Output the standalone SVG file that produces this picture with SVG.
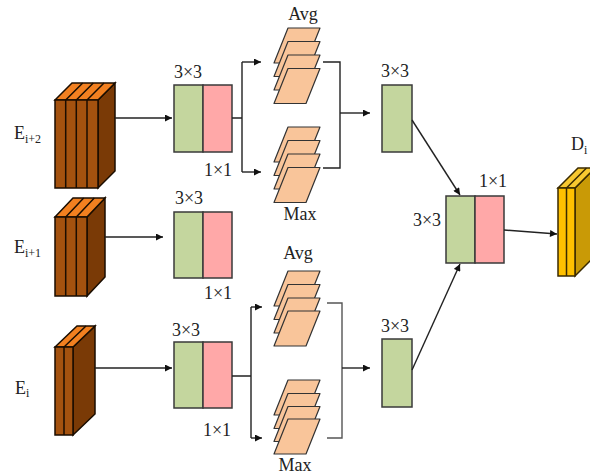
<svg xmlns="http://www.w3.org/2000/svg" xmlns:xlink="http://www.w3.org/1999/xlink" width="590" height="476" viewBox="0 0 590 476">
  <defs>
    <style>
      .lbl { font-family: "Liberation Serif", "Times New Roman", serif; font-size: 18px; fill: #222; }
      .sub { font-family: "Liberation Serif", "Times New Roman", serif; font-size: 12px; fill: #222; }
      .conv3 { fill: #c4d69e; stroke: #3a3a3a; stroke-width: 1.5; }
      .conv1 { fill: #ffa8a8; stroke: #3a3a3a; stroke-width: 1.5; }
      .plane { fill: #f9c59a; stroke: #333; stroke-width: 1.2; stroke-linejoin: round; }
      .wire { fill: none; stroke: #222; stroke-width: 1.4; }
      .wire-soft { fill: none; stroke: #555; stroke-width: 1.4; }
      .bf { fill: #a4520f; stroke: #1a0d00; stroke-width: 1.5; }
      .bt { fill: #f28020; stroke: #1a0d00; stroke-width: 1.5; }
      .bs { fill: #7a3a06; stroke: #1a0d00; stroke-width: 1.5; }
      .yf { fill: #ffc000; stroke: #3a2a00; stroke-width: 1.5; }
      .yt { fill: #f8c830; stroke: #3a2a00; stroke-width: 1.5; }
      .ys { fill: #c99a06; stroke: #3a2a00; stroke-width: 1.5; }
      .stripe { stroke: #1a0d00; stroke-width: 1.5; fill: none; }
    </style>
    <marker id="arrow" viewBox="0 0 10 10" refX="10" refY="5" markerUnits="userSpaceOnUse" markerWidth="9" markerHeight="7" orient="auto">
      <path d="M0,0 L10,5 L0,10 z" fill="#111"/>
    </marker>
    <!-- single feature plane of a pooled stack -->
    <path id="plane" class="plane" d="M0,0 H32 L18,35 H-14 Z"/>
  </defs>

  <!-- input feature blocks -->
  <g id="E_i2">
    <path class="bs" d="M98,100 L115,83 L115,171 L98,188 Z"/>
    <path class="bt" d="M55,100 L72,83 L115,83 L98,100 Z"/>
    <rect class="bf" x="55" y="100" width="43" height="88"/>
    <path class="stripe" d="M65.7,100 V188 M76.3,100 V188 M87,100 V188 M65.7,100 L82.7,83 M76.3,100 L93.3,83 M87,100 L104,83"/>
    <text class="lbl" x="14" y="139">E</text><text class="sub" x="25" y="143">i+2</text>
  </g>
  <g id="E_i1">
    <path class="bs" d="M87,217 L105,198 L105,277 L87,296 Z"/>
    <path class="bt" d="M55,217 L73,198 L105,198 L87,217 Z"/>
    <rect class="bf" x="55" y="217" width="32" height="79"/>
    <path class="stripe" d="M65.7,217 V296 M76.3,217 V296 M65.7,217 L83.7,198 M76.3,217 L94.3,198"/>
    <text class="lbl" x="14" y="253">E</text><text class="sub" x="25" y="257">i+1</text>
  </g>
  <g id="E_i">
    <path class="bs" d="M73,347 L95,326 L95,414 L73,435 Z"/>
    <path class="bt" d="M55,347 L77,326 L95,326 L73,347 Z"/>
    <rect class="bf" x="55" y="347" width="18" height="88"/>
    <path class="stripe" d="M64,347 V435 M64,347 L86,326"/>
    <text class="lbl" x="15" y="394">E</text><text class="sub" x="26" y="397">i</text>
  </g>

  <!-- convolution blocks on the left -->
  <g id="conv_top">
    <rect class="conv3" x="174" y="85" width="29" height="67"/>
    <rect class="conv1" x="203" y="85" width="29" height="67"/>
    <text class="lbl" x="188" y="78" text-anchor="middle">3×3</text>
    <text class="lbl" x="218" y="176" text-anchor="middle">1×1</text>
  </g>
  <g id="conv_mid">
    <rect class="conv3" x="174" y="212" width="29" height="66"/>
    <rect class="conv1" x="203" y="212" width="29" height="66"/>
    <text class="lbl" x="189" y="204" text-anchor="middle">3×3</text>
    <text class="lbl" x="218" y="299" text-anchor="middle">1×1</text>
  </g>
  <g id="conv_bot">
    <rect class="conv3" x="174" y="342" width="29" height="66"/>
    <rect class="conv1" x="203" y="342" width="29" height="66"/>
    <text class="lbl" x="186" y="336" text-anchor="middle">3×3</text>
    <text class="lbl" x="217" y="436" text-anchor="middle">1×1</text>
  </g>

  <!-- pooled stacks -->
  <g id="avg_top">
    <use xlink:href="#plane" x="288" y="28"/>
    <use xlink:href="#plane" x="288" y="41.5"/>
    <use xlink:href="#plane" x="288" y="55"/>
    <use xlink:href="#plane" x="288" y="68.5"/>
    <text class="lbl" x="303" y="20" text-anchor="middle">Avg</text>
  </g>
  <g id="max_top">
    <use xlink:href="#plane" x="288" y="127"/>
    <use xlink:href="#plane" x="288" y="140.5"/>
    <use xlink:href="#plane" x="288" y="154"/>
    <use xlink:href="#plane" x="288" y="167.5"/>
    <text class="lbl" x="300" y="220" text-anchor="middle">Max</text>
  </g>
  <g id="avg_bot">
    <use xlink:href="#plane" x="288" y="271"/>
    <use xlink:href="#plane" x="288" y="284.5"/>
    <use xlink:href="#plane" x="288" y="298"/>
    <use xlink:href="#plane" x="288" y="311"/>
    <text class="lbl" x="298" y="259" text-anchor="middle">Avg</text>
  </g>
  <g id="max_bot">
    <use xlink:href="#plane" x="288" y="380"/>
    <use xlink:href="#plane" x="288" y="393.5"/>
    <use xlink:href="#plane" x="288" y="406.5"/>
    <use xlink:href="#plane" x="288" y="419"/>
    <text class="lbl" x="295" y="471" text-anchor="middle">Max</text>
  </g>

  <!-- fusion convolutions on the right -->
  <g id="conv_r_top">
    <rect class="conv3" x="382" y="85" width="30" height="67"/>
    <text class="lbl" x="395" y="77" text-anchor="middle">3×3</text>
  </g>
  <g id="conv_r_bot">
    <rect class="conv3" x="382" y="339" width="30" height="68"/>
    <text class="lbl" x="395" y="332" text-anchor="middle">3×3</text>
  </g>
  <g id="conv_out">
    <rect class="conv3" x="446" y="196" width="29" height="67"/>
    <rect class="conv1" x="475" y="196" width="29" height="67"/>
    <text class="lbl" x="427" y="226" text-anchor="middle">3×3</text>
    <text class="lbl" x="493" y="187" text-anchor="middle">1×1</text>
  </g>

  <!-- output feature block -->
  <g id="D_i">
    <path class="ys" d="M575,188 L595,168 L595,256 L575,276 Z"/>
    <path class="yt" d="M558,188 L578,168 L595,168 L575,188 Z"/>
    <rect class="yf" x="558" y="188" width="17" height="88"/>
    <path class="stripe" style="stroke:#3a2a00" d="M566.5,188 V276 M566.5,188 L586.5,168"/>
    <text class="lbl" x="571" y="150">D</text><text class="sub" x="584" y="154">i</text>
  </g>

  <!-- connectors -->
  <g id="connectors">
    <line class="wire" x1="115" y1="118" x2="172" y2="118" marker-end="url(#arrow)"/>
    <line class="wire" x1="105" y1="237" x2="163" y2="237" marker-end="url(#arrow)"/>
    <line class="wire" x1="95" y1="368" x2="172" y2="368" marker-end="url(#arrow)"/>

    <path class="wire" d="M232,118 H242 M242,62 V172"/>
    <line class="wire" x1="242" y1="62" x2="261" y2="62" marker-end="url(#arrow)"/>
    <line class="wire" x1="242" y1="172" x2="261" y2="172" marker-end="url(#arrow)"/>

    <path class="wire" d="M232,376 H251 M251,307 V438"/>
    <line class="wire" x1="251" y1="307" x2="262" y2="307" marker-end="url(#arrow)"/>
    <line class="wire" x1="251" y1="438" x2="262" y2="438" marker-end="url(#arrow)"/>

    <path class="wire" d="M323,62 H340 V168 H323"/>
    <line class="wire" x1="340" y1="113" x2="370" y2="113" marker-end="url(#arrow)"/>

    <path class="wire-soft" d="M327,303 H342 V438 H327"/>
    <line class="wire" x1="342" y1="368" x2="370" y2="368" marker-end="url(#arrow)"/>

    <line class="wire" x1="412" y1="120" x2="460" y2="195" marker-end="url(#arrow)"/>
    <line class="wire" x1="412" y1="370" x2="460" y2="264" marker-end="url(#arrow)"/>
    <line class="wire" x1="504" y1="230" x2="557" y2="234" marker-end="url(#arrow)"/>
  </g>
</svg>
